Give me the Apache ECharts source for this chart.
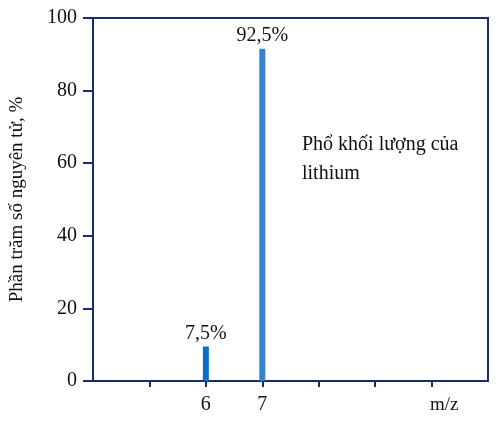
<!DOCTYPE html><html><head><meta charset="utf-8"><script src="https://cdn.jsdelivr.net/npm/echarts@6/dist/echarts.min.js"></script></head><body style="margin:0"><div id="c" style="width:503px;height:423px"></div><script>
const massNumbers=[6,7];
const barHeights=[9.5,91.5];
const barLabels=['7,5%','92,5%'];
const barColors=['#0b6ec7','#3a80d2'];
const yTicks=[0,20,40,60,80,100];
const xLabelled=[6,7];
const F='Liberation Serif';
const ax='#1c2b6b';
const chart=echarts.init(document.getElementById('c'));
chart.setOption({
 animation:false,
 grid:{left:87,right:15,top:18,bottom:42,show:true,borderColor:ax,borderWidth:2},
 xAxis:{type:'value',min:4,max:11,interval:1,
  axisLine:{show:false},axisTick:{show:true,length:6,lineStyle:{color:ax,width:2}},
  splitLine:{show:false},
  axisLabel:{fontFamily:F,fontSize:20,color:'#111',margin:14,showMinLabel:false,showMaxLabel:false,
   formatter:v=>xLabelled.includes(v)?String(v):''}},
 yAxis:{type:'value',min:0,max:100,interval:20,
  axisLine:{show:false},axisTick:{show:true,length:10,lineStyle:{color:ax,width:2}},
  splitLine:{show:false},
  axisLabel:{fontFamily:F,fontSize:20,color:'#111',margin:16,formatter:v=>yTicks.includes(v)?String(v):''},
  name:'Phần trăm số nguyên tử, %',nameLocation:'middle',nameGap:66,
  nameTextStyle:{fontFamily:F,fontSize:19,color:'#111'}},
 graphic:[
  {type:'text',left:302,top:130,style:{text:'Phổ khối lượng của\nlithium',fontFamily:F,fontSize:20,lineHeight:29,fill:'#111'}},
  {type:'text',left:430,top:396,style:{text:'m/z',fontFamily:F,fontSize:19,fill:'#111'}}
 ],
 series:[{type:'bar',barWidth:6,
  data:massNumbers.map((m,i)=>({value:[m,barHeights[i]],itemStyle:{color:barColors[i]},
   label:{show:true,position:'top',distance:3,formatter:barLabels[i],fontFamily:F,fontSize:20,color:'#111'}}))}]
});
</script></body></html>
